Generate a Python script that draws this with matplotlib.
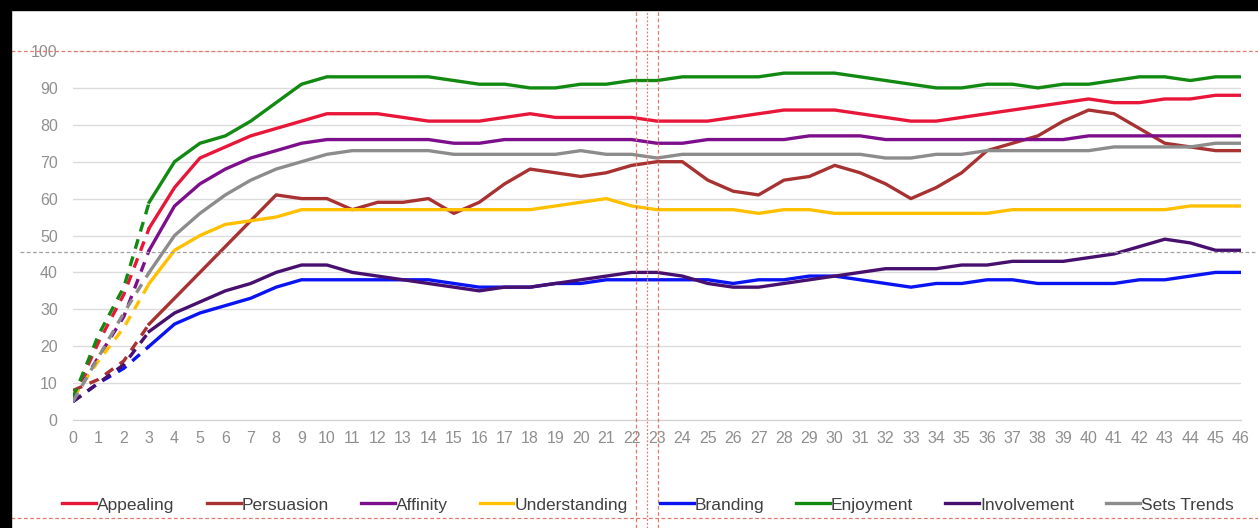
import matplotlib
matplotlib.use("Agg")
import matplotlib.pyplot as plt
from matplotlib.lines import Line2D
from matplotlib.patches import Rectangle

# DATA
weeks = list(range(47))
appealing = [6, 21, 34, 52, 63, 71, 74, 77, 79, 81, 83, 83, 83, 82, 81, 81, 81, 82, 83, 82,
             82, 82, 82, 81, 81, 81, 82, 83, 84, 84, 84, 83, 82, 81, 81, 82, 83, 84, 85, 86,
             87, 86, 86, 87, 87, 88, 88]
persuasion = [8, 11, 16, 26, 33, 40, 47, 54, 61, 60, 60, 57, 59, 59, 60, 56, 59, 64, 68, 67,
              66, 67, 69, 70, 70, 65, 62, 61, 65, 66, 69, 67, 64, 60, 63, 67, 73, 75, 77, 81,
              84, 83, 79, 75, 74, 73, 73]
affinity = [6, 17, 28, 46, 58, 64, 68, 71, 73, 75, 76, 76, 76, 76, 76, 75, 75, 76, 76, 76,
            76, 76, 76, 75, 75, 76, 76, 76, 76, 77, 77, 77, 76, 76, 76, 76, 76, 76, 76, 76,
            77, 77, 77, 77, 77, 77, 77]
understanding = [6, 16, 25, 37, 46, 50, 53, 54, 55, 57, 57, 57, 57, 57, 57, 57, 57, 57, 57, 58,
                 59, 60, 58, 57, 57, 57, 57, 56, 57, 57, 56, 56, 56, 56, 56, 56, 56, 57, 57, 57,
                 57, 57, 57, 57, 58, 58, 58]
branding = [5, 10, 14, 20, 26, 29, 31, 33, 36, 38, 38, 38, 38, 38, 38, 37, 36, 36, 36, 37,
            37, 38, 38, 38, 38, 38, 37, 38, 38, 39, 39, 38, 37, 36, 37, 37, 38, 38, 37, 37,
            37, 37, 38, 38, 39, 40, 40]
enjoyment = [6, 23, 36, 59, 70, 75, 77, 81, 86, 91, 93, 93, 93, 93, 93, 92, 91, 91, 90, 90,
             91, 91, 92, 92, 93, 93, 93, 93, 94, 94, 94, 93, 92, 91, 90, 90, 91, 91, 90, 91,
             91, 92, 93, 93, 92, 93, 93]
involvement = [5, 10, 15, 24, 29, 32, 35, 37, 40, 42, 42, 40, 39, 38, 37, 36, 35, 36, 36, 37,
               38, 39, 40, 40, 39, 37, 36, 36, 37, 38, 39, 40, 41, 41, 41, 42, 42, 43, 43, 43,
               44, 45, 47, 49, 48, 46, 46]
sets_trends = [5, 17, 29, 40, 50, 56, 61, 65, 68, 70, 72, 73, 73, 73, 73, 72, 72, 72, 72, 72,
               73, 72, 72, 71, 72, 72, 72, 72, 72, 72, 72, 72, 71, 71, 72, 72, 73, 73, 73, 73,
               73, 74, 74, 74, 74, 75, 75]

series_names = ["Appealing", "Persuasion", "Affinity", "Understanding",
                "Branding", "Enjoyment", "Involvement", "Sets Trends"]
series_values = [appealing, persuasion, affinity, understanding,
                 branding, enjoyment, involvement, sets_trends]
colors = ["#E8173A", "#A83232", "#7E0F8C", "#FFC000",
          "#0A14F0", "#128A12", "#48106E", "#8C8C8C"]
split = 3  # dashed up to here

fig = plt.figure(figsize=(12.58, 5.28), dpi=100)
fig.patch.set_facecolor("white")
ax = fig.add_axes([73 / 1258, 108 / 528, 1168 / 1258, 369 / 528])

handles = []
for name, vals, c in zip(series_names, series_values, colors):
    ax.plot(weeks[:split + 1], vals[:split + 1], color=c, lw=2.4,
            linestyle=(0, (3, 2.4)), solid_capstyle="butt")
    ln, = ax.plot(weeks[split:], vals[split:], color=c, lw=2.4, label=name,
                  solid_joinstyle="round")
    handles.append(ln)

ax.set_xlim(0, 46)
ax.set_ylim(0, 100)
ax.set_xticks(weeks)
ax.set_yticks(range(0, 101, 10))
ax.grid(axis="y", color="#dcdcdc", lw=1)
ax.set_axisbelow(True)
for s in ["top", "right", "left"]:
    ax.spines[s].set_visible(False)
ax.spines["bottom"].set_color("#d0d0d0")
ax.tick_params(length=0, colors="#8f8f8f", labelsize=11.5)
ax.tick_params(axis="y", pad=11)
ax.tick_params(axis="x", pad=8)
for lab in ax.get_xticklabels() + ax.get_yticklabels():
    lab.set_fontfamily(["Liberation Sans Narrow", "Liberation Sans", "DejaVu Sans"])

leg = fig.legend(handles=handles, loc="center", bbox_to_anchor=(648 / 1258, 1 - 505 / 528),
                 ncol=8, frameon=False, handlelength=1.95, handletextpad=0.05,
                 columnspacing=1.85, prop={"family": "Liberation Sans", "size": 12.5})
for t in leg.get_texts():
    t.set_color("#404040")

# black frame edges of the screenshot
fig.patches.append(Rectangle((0, 1 - 10 / 528), 1, 10 / 528, transform=fig.transFigure,
                             color="black", zorder=10))
fig.patches.append(Rectangle((0, 0), 11 / 1258, 1, transform=fig.transFigure,
                             color="black", zorder=10))

# guide lines from the screenshot
red = "#E07A6E"
for xp, ls in [(636, (0, (3, 2))), (646.5, (0, (1.5, 1.5))), (658, (0, (3, 2)))]:
    fig.lines.append(Line2D([xp / 1258, xp / 1258], [0, 1 - 10 / 528], transform=fig.transFigure,
                            color=red, lw=0.9, linestyle=ls, zorder=5))
for yp in [51, 518]:
    fig.lines.append(Line2D([11 / 1258, 1], [1 - yp / 528, 1 - yp / 528], transform=fig.transFigure,
                            color=red, lw=0.9, linestyle=(0, (3, 2)), zorder=5))
fig.lines.append(Line2D([20 / 1258, 1], [1 - 252 / 528, 1 - 252 / 528], transform=fig.transFigure,
                        color="#a0a0a0", lw=0.9, linestyle=(0, (3, 2)), zorder=5))

fig.savefig("out.png", dpi=100)
